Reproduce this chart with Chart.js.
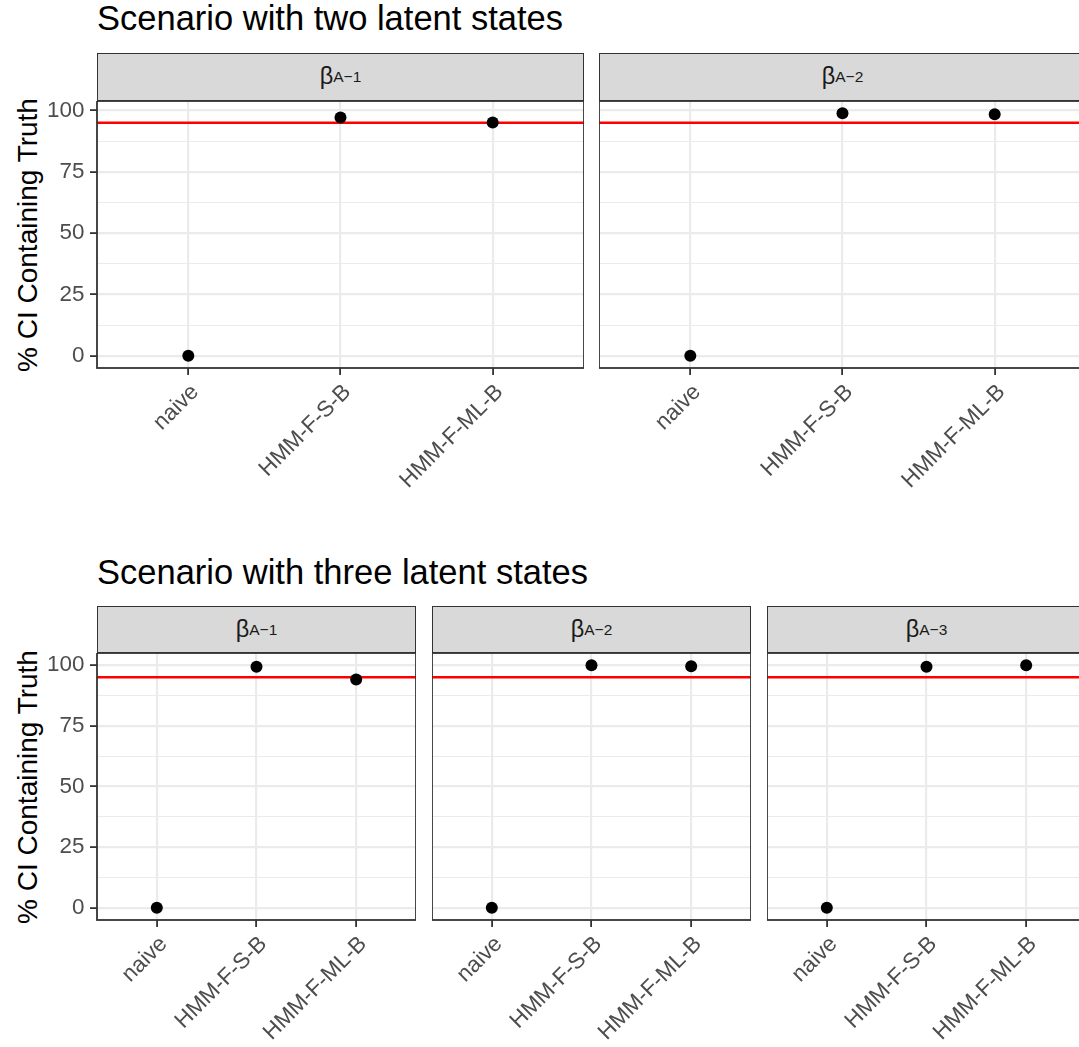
<!DOCTYPE html>
<html>
<head>
<meta charset="utf-8">
<script src="https://cdn.jsdelivr.net/npm/chart.js@4.4.1/dist/chart.umd.min.js"></script>
<style>
    body { margin: 0; background: #fff; }
    #wrap { position: relative; width: 1079px; height: 1047px; overflow: hidden; font-family: "Liberation Sans", Arial, sans-serif; }
    .title { position: absolute; left: 97px; font-size: 34.5px; line-height: 34px; color: #000; white-space: nowrap; }
    .ytitle { position: absolute; width: 400px; font-size: 28px; line-height: 28px; text-align: center; color: #000; white-space: nowrap; transform: rotate(-90deg); }
    .strip { position: absolute; box-sizing: border-box; border: 1.8px solid #333; background: #d9d9d9; color: #1a1a1a; display: flex; align-items: center; justify-content: center; }
    .strip .b { font-size: 23.5px; }
    .strip sub { font-size: 15.5px; vertical-align: -0.4em; }
    canvas { position: absolute; }
</style>
</head>
<body>
<div id="wrap"></div>
<script>
// Dữ liệu: % khoảng tin cậy chứa giá trị thật
var categories = ['naive', 'HMM-F-S-B', 'HMM-F-ML-B'];
var twoStateA1 = [0, 97.1, 95.1];
var twoStateA2 = [0, 98.9, 98.4];
var threeStateA1 = [0, 99.3, 94.1];
var threeStateA2 = [0, 100, 99.5];
var threeStateA3 = [0, 99.3, 100];
var nominalLevel = 95;
var yTickValues = [0, 12.5, 25, 37.5, 50, 62.5, 75, 87.5, 100];

var fontFamily = '"Liberation Sans", Arial, sans-serif';
var wrap = document.getElementById('wrap');

// Bố cục hai hàng panel
var rows = [
    {
        title: 'Scenario with two latent states', titleTop: 1,
        stripTop: 52.5, plotTop: 101, plotH: 267,
        panels: [
            {left: 97, width: 487, sub: 'A\u22121', values: twoStateA1},
            {left: 599, width: 487, sub: 'A\u22122', values: twoStateA2}
        ]
    },
    {
        title: 'Scenario with three latent states', titleTop: 555,
        stripTop: 606, plotTop: 653, plotH: 267,
        panels: [
            {left: 97, width: 319, sub: 'A\u22121', values: threeStateA1},
            {left: 432, width: 319, sub: 'A\u22122', values: threeStateA2},
            {left: 767, width: 319, sub: 'A\u22123', values: threeStateA3}
        ]
    }
];

// Viền panel
var panelBox = {
    id: 'panelBox',
    afterDraw: function (chart) {
        var a = chart.chartArea, ctx = chart.ctx;
        ctx.save();
        ctx.strokeStyle = '#333';
        ctx.lineWidth = 1.8;
        ctx.strokeRect(a.left, a.top, a.right - a.left, a.bottom - a.top);
        ctx.restore();
    }
};

function isMajor(ctx) {
    return ctx.tick && ctx.tick.value % 25 === 0;
}

function makePanel(row, p, first, yMin, yMax) {
    var yW = first ? 97 : 0;
    var xH = 150;
    var c = document.createElement('canvas');
    c.width = yW + p.width;
    c.height = row.plotH + xH;
    c.style.left = (p.left - yW) + 'px';
    c.style.top = row.plotTop + 'px';
    wrap.appendChild(c);

    var strip = document.createElement('div');
    strip.className = 'strip';
    strip.style.left = p.left + 'px';
    strip.style.top = row.stripTop + 'px';
    strip.style.width = p.width + 'px';
    strip.style.height = (row.plotTop - row.stripTop) + 'px';
    strip.innerHTML = '<span class="b">\u03b2</span><sub>' + p.sub + '</sub>';
    wrap.appendChild(strip);

    var pts = p.values.map(function (v, i) { return {x: i, y: v}; });

    new Chart(c, {
        type: 'scatter',
        data: {
            datasets: [
                {data: pts, pointRadius: 6, pointBackgroundColor: '#000', pointBorderWidth: 0, showLine: false},
                {type: 'line', data: [{x: -0.6, y: nominalLevel}, {x: 2.6, y: nominalLevel}],
                    borderColor: '#ff0000', borderWidth: 2.4, pointRadius: 0, fill: false}
            ]
        },
        options: {
            responsive: false,
            animation: false,
            devicePixelRatio: 1,
            layout: {padding: 0, autoPadding: false},
            plugins: {legend: {display: false}, tooltip: {enabled: false}},
            scales: {
                x: {
                    type: 'linear', min: -0.6, max: 2.6,
                    afterBuildTicks: function (s) {
                        s.ticks = categories.map(function (c, i) { return {value: i}; });
                    },
                    afterFit: function (s) { s.height = xH; s.paddingLeft = 0; s.paddingRight = 0; },
                    grid: {color: '#ebebeb', lineWidth: 2.2, tickColor: '#333', tickLength: 7, tickWidth: 1.8},
                    border: {display: false},
                    ticks: {
                        autoSkip: false, minRotation: 45, maxRotation: 45, padding: 4, labelOffset: 7,
                        color: '#4d4d4d', font: {family: fontFamily, size: 22.4},
                        callback: function (v) { return categories[v]; }
                    }
                },
                y: {
                    type: 'linear', min: yMin, max: yMax,
                    afterBuildTicks: function (s) {
                        s.ticks = yTickValues.map(function (v) { return {value: v}; });
                    },
                    afterFit: function (s) { s.width = yW; s.paddingTop = 0; s.paddingBottom = 0; },
                    grid: {
                        color: '#ebebeb',
                        lineWidth: function (ctx) { return isMajor(ctx) ? 2.2 : 1.1; },
                        drawTicks: first,
                        tickColor: function (ctx) { return isMajor(ctx) ? '#333' : 'rgba(0,0,0,0)'; },
                        tickLength: 7, tickWidth: 1.8
                    },
                    border: {display: false},
                    ticks: {
                        display: first, autoSkip: false, padding: 5.6,
                        color: '#4d4d4d', font: {family: fontFamily, size: 22.4},
                        callback: function (v) { return v % 25 === 0 ? v : ''; }
                    }
                }
            }
        },
        plugins: [panelBox]
    });
}

rows.forEach(function (row) {
    // Tiêu đề hàng
    var t = document.createElement('div');
    t.className = 'title';
    t.style.top = row.titleTop + 'px';
    t.textContent = row.title;
    wrap.appendChild(t);

    var yt = document.createElement('div');
    yt.className = 'ytitle';
    yt.textContent = '% CI Containing Truth';
    yt.style.left = (28 - 200) + 'px';
    yt.style.top = (row.plotTop + row.plotH / 2 - 14) + 'px';
    wrap.appendChild(yt);

    // Miền trục y giống ggplot (mở rộng 5%)
    var all = [];
    row.panels.forEach(function (p) { all = all.concat(p.values); });
    var lo = Math.min.apply(null, all), hi = Math.max.apply(null, all);
    var ext = (hi - lo) * 0.05;

    row.panels.forEach(function (p, i) {
        makePanel(row, p, i === 0, lo - ext, hi + ext);
    });
});
</script>
</body>
</html>
